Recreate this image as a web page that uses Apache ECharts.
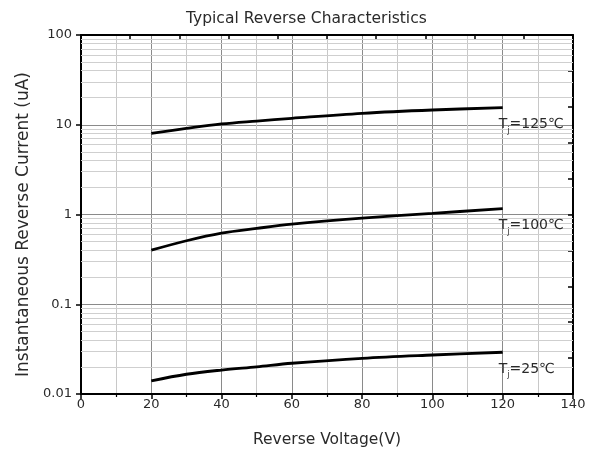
<!DOCTYPE html>
<html><head><meta charset="utf-8">
<script src="https://cdn.jsdelivr.net/npm/echarts@6/dist/echarts.min.js"></script>
<style>html,body{margin:0;padding:0;background:#fff}#c{width:598px;height:454px}</style>
</head><body><div id="c"></div>
<script>
const voltage = [20, 30, 40, 50, 60, 80, 100, 120];
const i125 = [8.0, 9.1, 10.2, 11.0, 11.8, 13.4, 14.6, 15.5];
const i100 = [0.40, 0.51, 0.62, 0.70, 0.78, 0.91, 1.03, 1.16];
const i25 = [0.0140, 0.0166, 0.0185, 0.0201, 0.0220, 0.0250, 0.0272, 0.0292];
const seriesLabels = ['125℃', '100℃', '25℃'];
const xTicks = [0, 20, 40, 60, 80, 100, 120, 140];
const yTicks = [0.01, 0.1, 1, 10, 100];

const FONT = '"DejaVu Sans", "Liberation Sans", Arial, sans-serif';
const TXT = '#2a2a2a';
// minor log grid values (2..9 per decade)
const minorVals = [];
for (let e = -2; e < 2; e++) for (let m = 2; m <= 9; m++) minorVals.push(+(m * Math.pow(10, e)).toPrecision(3));

const chart = echarts.init(document.getElementById('c'));
function mk(vals) { return vals.map((v, i) => [voltage[i], v]); }
function lineSeries(vals, lab) {
  return {
    type: 'line', data: mk(vals), smooth: 0.35, showSymbol: false, symbol: 'none',
    lineStyle: { color: '#000', width: 2.8 }, z: 5,
    endLabel: {
      show: true, formatter: 'T{s|j}=' + lab, offset: [-12, 17],
      fontFamily: FONT, fontSize: 14, color: TXT,
      rich: { s: { fontSize: 8, verticalAlign: 'bottom', padding: [12, 0, 0, 0], color: TXT, fontFamily: FONT } }
    }
  };
}
chart.setOption({
  animation: false,
  title: { text: 'Typical Reverse Characteristics', left: 181, top: 6,
    textStyle: { fontFamily: FONT, fontSize: 15.5, fontWeight: 'normal', color: TXT } },
  grid: { left: 81, right: 25, top: 35, bottom: 60 },
  xAxis: [{
    type: 'value', min: 0, max: 140, interval: 20, position: 'bottom',
    name: 'Reverse Voltage(V)', nameLocation: 'middle', nameGap: 38,
    nameTextStyle: { fontFamily: FONT, fontSize: 15.5, color: TXT },
    axisLine: { show: true, onZero: false, lineStyle: { color: '#000', width: 2 } },
    axisTick: { show: true, inside: false, length: 5, lineStyle: { color: '#000', width: 1.5 } },
    minorTick: { show: true, splitNumber: 2, length: 3, lineStyle: { color: '#000', width: 1.2 } },
    axisLabel: { fontFamily: FONT, fontSize: 13, color: TXT, margin: 4 },
    splitLine: { show: true, lineStyle: { color: '#8a8a8a', width: 1 } },
    minorSplitLine: { show: true, lineStyle: { color: '#c8c8c8', width: 1 } }
  }, {
    type: 'value', min: 0, max: 140, interval: 14, position: 'top',
    axisLine: { show: true, onZero: false, lineStyle: { color: '#000', width: 2 } },
    axisTick: { show: true, inside: true, length: 5, lineStyle: { color: '#000', width: 1.5 } },
    axisLabel: { show: false }, splitLine: { show: false }
  }],
  yAxis: [{
    type: 'log', logBase: 10, min: 0.01, max: 100, position: 'left',
    name: 'Instantaneous Reverse Current (uA)', nameLocation: 'middle', nameGap: 46,
    nameTextStyle: { fontFamily: FONT, fontSize: 17, color: TXT, padding: [0, 20, 0, 0] },
    axisLine: { show: true, onZero: false, lineStyle: { color: '#000', width: 2 } },
    axisTick: { show: true, inside: false, length: 5, lineStyle: { color: '#000', width: 1.5 } },
    axisLabel: { fontFamily: FONT, fontSize: 13, color: TXT, margin: 9,
      formatter: v => String(yTicks.find(t => Math.abs(t - v) / t < 1e-6) ?? v) },
    splitLine: { show: true, lineStyle: { color: '#8a8a8a', width: 1 } }
  }, {
    type: 'value', min: -2, max: 2, interval: 0.4, position: 'right',
    axisLine: { show: true, onZero: false, lineStyle: { color: '#000', width: 2 } },
    axisTick: { show: true, inside: true, length: 5, lineStyle: { color: '#000', width: 1.5 } },
    axisLabel: { show: false }, splitLine: { show: false }
  }],
  series: [
    {
      type: 'line', data: [], silent: true,
      markLine: {
        silent: true, symbol: 'none', label: { show: false }, animation: false,
        lineStyle: { color: '#cfcfcf', width: 1, type: 'solid' },
        data: minorVals.map(v => ({ yAxis: v }))
      }, z: 1
    },
    lineSeries(i125, seriesLabels[0]),
    lineSeries(i100, seriesLabels[1]),
    lineSeries(i25, seriesLabels[2])
  ]
});
</script></body></html>
